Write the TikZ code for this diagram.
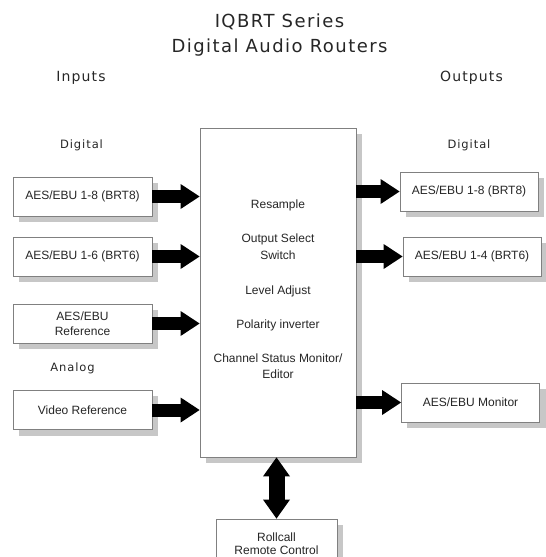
\documentclass[tikz,border=0pt]{standalone}
\usepackage{fontspec}
\setmainfont{Liberation Sans}
\newfontfamily\headfont[LetterSpace=8]{DejaVu Sans}
\usetikzlibrary{arrows.meta,backgrounds}

\begin{document}
\begin{tikzpicture}[x=1pt,y=-1pt]
  \useasboundingbox (0,0) rectangle (546,557);
  % def inputs
  \coordinate (I1) at (82.5,196.5);
  \coordinate (I2) at (82.5,256.5);
  \coordinate (I3) at (82.5,323.5);
  \coordinate (I4) at (82.5,410);
  % def outputs
  \coordinate (O1) at (469,191.5);
  \coordinate (O2) at (472,256.5);
  \coordinate (O3) at (470.5,402.5);
  % def router
  \coordinate (R) at (278,292.5);
  \coordinate (K) at (276.5,544);

  %stili
  \tikzset{box/.style={draw=gray, fill=white, line width=0.8pt, minimum width=139pt, minimum height=39pt,
      align=center, text=black!85, font=\fontsize{12}{14.5}\selectfont},
    boxshadow/.style={fill=black!22},
    head/.style={anchor=base, text=black!85, font=\headfont\fontsize{14}{17}\selectfont},
    sub/.style={anchor=base, text=black!85, font=\headfont\fontsize{11.5}{14}\selectfont},
    func/.style={align=center, text=black!85, font=\fontsize{12}{17}\selectfont},
    fat/.style={line width=13pt, -{Triangle[length=19pt,width=25pt,line width=0pt]}},
    fatboth/.style={line width=16pt, {Triangle[length=19pt,width=27pt,line width=0pt]}-{Triangle[length=19pt,width=27pt,line width=0pt]}}}

  %titolo
  \node[head, font=\headfont\fontsize{18}{25}\selectfont] (t1) at (279.5,27) {IQBRT Series};
  \node[head, font=\headfont\fontsize{18}{25}\selectfont] (t2) at (279.5,52) {Digital Audio Routers};
  \node[head] (hin) at (81,81) {Inputs};
  \node[head] (hout) at (471.5,81) {Outputs};
  \node[sub] (din) at (81.5,148) {Digital};
  \node[sub] (dout) at (469,148) {Digital};
  \node[sub] (ain) at (72.5,371) {Analog};

  %blocchi
  \node[box, minimum width=156pt, minimum height=329pt] (core) at (R) {};
  \node[box] (in1) at (I1) {AES/EBU 1-8 (BRT8)};
  \node[box] (in2) at (I2) {AES/EBU 1-6 (BRT6)};
  \node[box] (in3) at (I3) {AES/EBU\\Reference};
  \node[box] (in4) at (I4) {Video Reference};
  \node[box, minimum width=138pt] (out1) at (O1) {AES/EBU 1-8 (BRT8)};
  \node[box, minimum width=138pt] (out2) at (O2) {AES/EBU 1-4 (BRT6)};
  \node[box, minimum width=138pt] (out3) at (O3) {AES/EBU Monitor};
  \node[box, minimum width=121pt, minimum height=50pt, font=\fontsize{12}{13}\selectfont] (rollcall) at (K) {Rollcall\\Remote Control};

  %ombre
  \begin{scope}[on background layer]
    \foreach \b in {core,in1,in2,in3,in4,out1,out2,out3,rollcall}
      \fill[boxshadow] ([xshift=6pt,yshift=-6pt]\b.north west) rectangle ([xshift=6pt,yshift=-6pt]\b.south east);
  \end{scope}

  %funzioni
  \node[func, anchor=base] (f1) at (278,208) {Resample};
  \node[func] (f2) at (278,247) {Output Select\\Switch};
  \node[func, anchor=base] (f3) at (278,294) {Level Adjust};
  \node[func, anchor=base] (f4) at (278,328) {Polarity inverter};
  \node[func, font=\fontsize{12}{16}\selectfont] (f5) at (278,366) {Channel Status Monitor/\\Editor};

  %frecce
  \draw[fat] (in1.east) -- (in1.east -| core.west);
  \draw[fat] (in2.east) -- (in2.east -| core.west);
  \draw[fat] (in3.east) -- (in3.east -| core.west);
  \draw[fat] (in4.east) -- (in4.east -| core.west);
  \draw[fat] (out1.west -| core.east) -- (out1.west);
  \draw[fat] (out2.west -| core.east) -- (out2.west);
  \draw[fat] (out3.west -| core.east) -- (out3.west);
  \draw[fatboth] (rollcall.north |- core.south) -- (rollcall.north);

\end{tikzpicture}
\end{document}
